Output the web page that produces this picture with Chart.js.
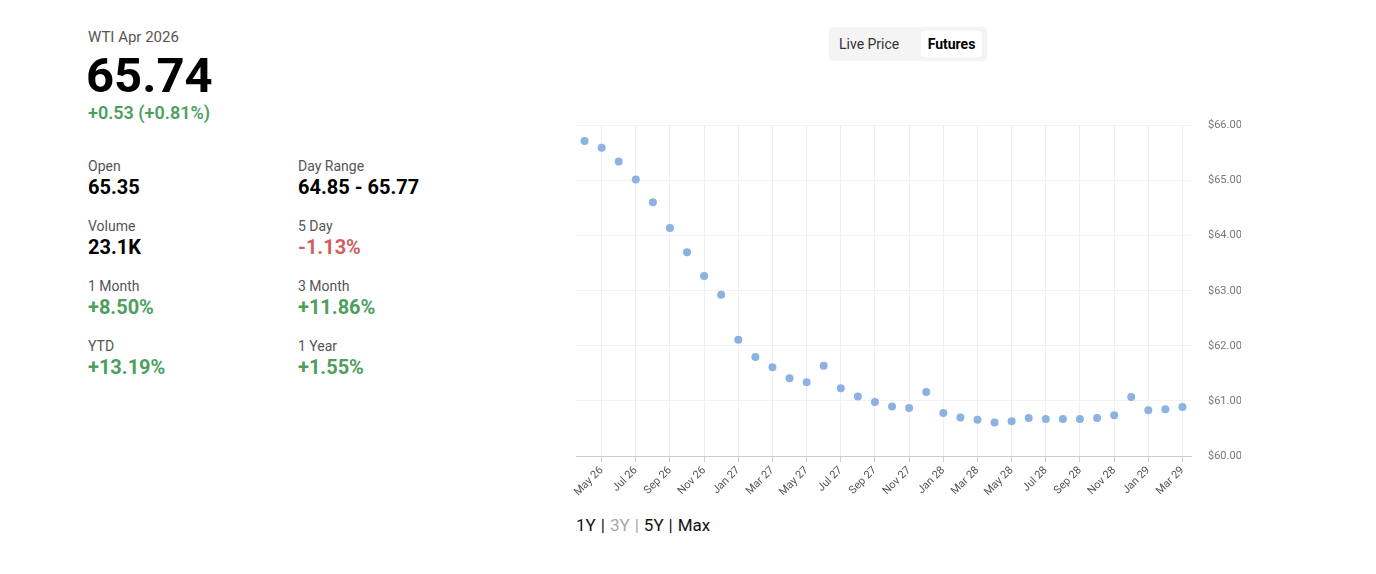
<!DOCTYPE html>
<html>
<head>
<meta charset="utf-8">
<script src="https://cdn.jsdelivr.net/npm/chart.js@4"></script>
<style>
  body { margin: 0; font-family: Roboto, sans-serif; background: #fff; width: 1376px; height: 574px; position: relative; overflow: hidden; }
  .title { position: absolute; left: 88px; top: 28px; font-size: 15px; color: #555; }
  .price { position: absolute; left: 86px; top: 47px; font-size: 49px; font-weight: 700; color: #000; }
  .change { position: absolute; left: 88px; top: 102px; font-size: 18px; font-weight: 600; color: #4e9e5e; }
  .stat { position: absolute; }
  .stat .lbl { font-size: 14px; color: #555; }
  .stat .val { font-size: 20px; font-weight: 700; color: #000; margin-top: 1px; }
  .up { color: #4e9e5e !important; }
  .down { color: #d16060 !important; }
  .toggle { position: absolute; left: 829px; top: 27px; width: 158px; height: 34px; background: #f4f4f4; border-radius: 4px; font-size: 14px; }
  .toggle .a { position: absolute; left: 10px; top: 9px; color: #333; }
  .toggle .b { position: absolute; left: 92px; top: 4px; width: 61px; height: 26px; background: #fff; border-radius: 3px; font-weight: 700; color: #000; line-height: 26px; text-align: center; }
  .range { position: absolute; left: 576px; top: 515px; font-size: 17px; color: #111; }
  .range span { margin-right: 5px; }
  .range .dim { color: #a0aab0; }
  #wrap { position: absolute; left: 572px; top: 102px; width: 669px; height: 406px; }
</style>
</head>
<body>
<div class="title">WTI Apr 2026</div>
<div class="price">65.74</div>
<div class="change">+0.53 (+0.81%)</div>

<div class="stat" style="left:88px;top:158px"><div class="lbl">Open</div><div class="val">65.35</div></div>
<div class="stat" style="left:298px;top:158px"><div class="lbl">Day Range</div><div class="val">64.85 - 65.77</div></div>
<div class="stat" style="left:88px;top:218px"><div class="lbl">Volume</div><div class="val">23.1K</div></div>
<div class="stat" style="left:298px;top:218px"><div class="lbl">5 Day</div><div class="val down">-1.13%</div></div>
<div class="stat" style="left:88px;top:278px"><div class="lbl">1 Month</div><div class="val up">+8.50%</div></div>
<div class="stat" style="left:298px;top:278px"><div class="lbl">3 Month</div><div class="val up">+11.86%</div></div>
<div class="stat" style="left:88px;top:338px"><div class="lbl">YTD</div><div class="val up">+13.19%</div></div>
<div class="stat" style="left:298px;top:338px"><div class="lbl">1 Year</div><div class="val up">+1.55%</div></div>

<div class="toggle"><span class="a">Live Price</span><span class="b">Futures</span></div>

<div id="wrap"><canvas id="futuresChart"></canvas></div>

<div class="range"><span>1Y</span><span>|</span><span class="dim">3Y</span><span class="dim">|</span><span>5Y</span><span>|</span><span>Max</span></div>

<script>
// contract months
var months = ['Apr 26','May 26','Jun 26','Jul 26','Aug 26','Sep 26','Oct 26','Nov 26','Dec 26',
              'Jan 27','Feb 27','Mar 27','Apr 27','May 27','Jun 27','Jul 27','Aug 27','Sep 27','Oct 27','Nov 27','Dec 27',
              'Jan 28','Feb 28','Mar 28','Apr 28','May 28','Jun 28','Jul 28','Aug 28','Sep 28','Oct 28','Nov 28','Dec 28',
              'Jan 29','Feb 29','Mar 29'];

// settlement prices per contract
var prices = [65.72, 65.60, 65.35, 65.02, 64.61, 64.14, 63.70, 63.27, 62.93,
              62.11, 61.80, 61.61, 61.41, 61.34, 61.64, 61.23, 61.08, 60.98, 60.90, 60.87, 61.16,
              60.78, 60.70, 60.66, 60.61, 60.63, 60.69, 60.67, 60.67, 60.67, 60.69, 60.74,
              61.07, 60.83, 60.85, 60.89];

var yMin = 60;
var yMax = 66;

const ctx = document.getElementById('futuresChart').getContext('2d');

const chartConfig = {
    type: 'line',
    data: {
        labels: months,
        datasets: [{
            label: 'Futures',
            data: prices,
            showLine: false,
            pointRadius: 4,
            pointHoverRadius: 4,
            pointBackgroundColor: '#8cb2e3',
            pointBorderWidth: 0,
            borderColor: '#8cb2e3'
        }]
    },
    options: {
        responsive: true,
        maintainAspectRatio: false,
        animation: false,
        layout: { padding: 0 },
        plugins: { legend: { display: false }, tooltip: { enabled: false } },
        scales: {
            x: {
                offset: true,
                afterFit: function (s) { s.height = 52; },
                grid: { color: '#efefef', tickColor: '#cfcfcf', tickLength: 6, offset: false },
                border: { color: '#cfcfcf' },
                ticks: {
                    autoSkip: false,
                    minRotation: 45,
                    maxRotation: 45,
                    color: '#555',
                    font: { family: 'Roboto', size: 11 },
                    padding: 2,
                    callback: function (val, i) {
                        // every other month, starting with May
                        return i % 2 === 1 ? months[i] : null;
                    }
                }
            },
            y: {
                position: 'right',
                min: yMin,
                max: yMax,
                afterFit: function (s) { s.width = 50; },
                grid: { color: '#f2f2f2', drawTicks: false },
                border: { display: false },
                ticks: {
                    stepSize: 1,
                    padding: 17,
                    color: '#777',
                    font: { family: 'Roboto', size: 11 },
                    callback: function (v) { return '$' + v.toFixed(2); }
                }
            }
        }
    }
};

var chart = new Chart(ctx, chartConfig);
</script>
</body>
</html>
